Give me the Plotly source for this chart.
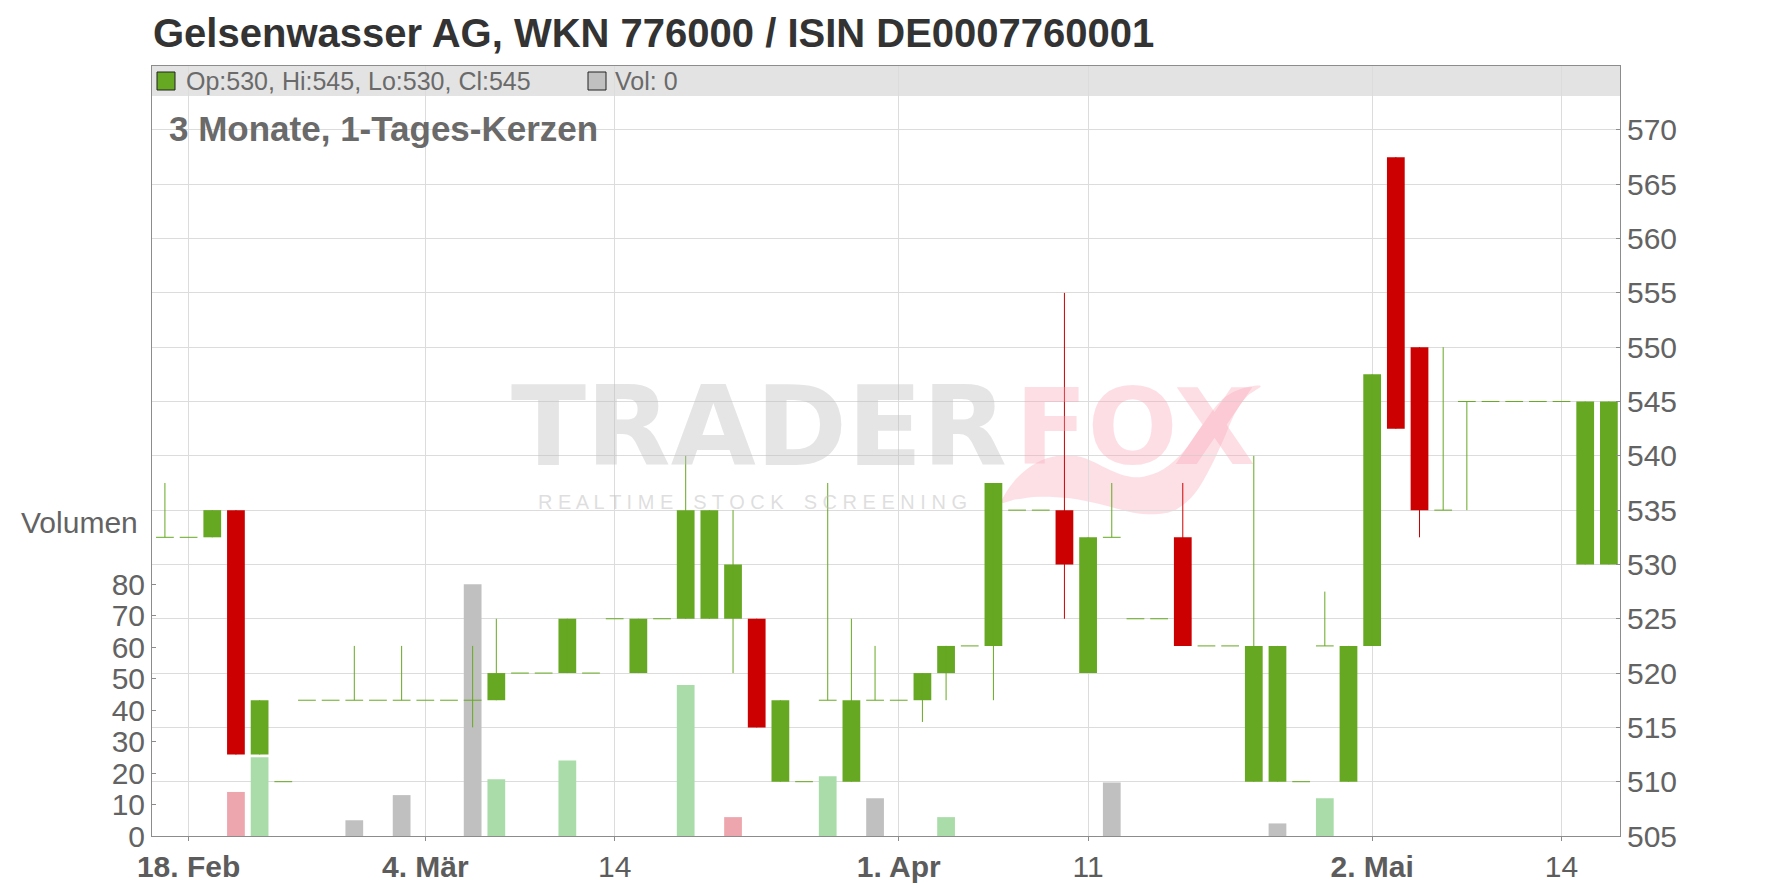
import plotly.graph_objects as go

# ---------------- data ----------------
dates = [
    "2019-02-15", "2019-02-18", "2019-02-19", "2019-02-20", "2019-02-21", "2019-02-22",
    "2019-02-25", "2019-02-26", "2019-02-27", "2019-02-28", "2019-03-01",
    "2019-03-04", "2019-03-05", "2019-03-06", "2019-03-07", "2019-03-08",
    "2019-03-11", "2019-03-12", "2019-03-13", "2019-03-14", "2019-03-15",
    "2019-03-18", "2019-03-19", "2019-03-20", "2019-03-21", "2019-03-22",
    "2019-03-25", "2019-03-26", "2019-03-27", "2019-03-28", "2019-03-29",
    "2019-04-01", "2019-04-02", "2019-04-03", "2019-04-04", "2019-04-05",
    "2019-04-08", "2019-04-09", "2019-04-10", "2019-04-11", "2019-04-12",
    "2019-04-15", "2019-04-16", "2019-04-17", "2019-04-18",
    "2019-04-23", "2019-04-24", "2019-04-25", "2019-04-26",
    "2019-04-29", "2019-04-30",
    "2019-05-02", "2019-05-03", "2019-05-06", "2019-05-07", "2019-05-08",
    "2019-05-09", "2019-05-10", "2019-05-13", "2019-05-14", "2019-05-15", "2019-05-16",
]
opens = [
    532.5, 532.5, 532.5, 535, 512.5, 510,
    517.5, 517.5, 517.5, 517.5, 517.5,
    517.5, 517.5, 517.5, 517.5, 520,
    520, 520, 520, 525, 520,
    525, 525, 525, 525, 525,
    510, 510, 517.5, 510, 517.5,
    517.5, 517.5, 520, 522.5, 522.5,
    535, 535, 535, 520, 532.5,
    525, 525, 532.5, 522.5,
    522.5, 510, 510, 510,
    522.5, 510,
    522.5, 567.5, 550, 535, 545,
    545, 545, 545, 545, 530, 530,
]
highs = [
    537.5, 532.5, 535, 535, 517.5, 510,
    517.5, 517.5, 522.5, 517.5, 522.5,
    517.5, 517.5, 522.5, 525, 520,
    520, 525, 520, 525, 525,
    525, 540, 535, 535, 525,
    517.5, 510, 537.5, 525, 522.5,
    517.5, 520, 522.5, 522.5, 537.5,
    535, 535, 555, 532.5, 537.5,
    525, 525, 537.5, 522.5,
    522.5, 540, 522.5, 510,
    527.5, 522.5,
    547.5, 567.5, 550, 550, 545,
    545, 545, 545, 545, 545, 545,
]
lows = [
    532.5, 532.5, 532.5, 512.5, 512.5, 510,
    517.5, 517.5, 517.5, 517.5, 517.5,
    517.5, 517.5, 515, 517.5, 520,
    520, 520, 520, 525, 520,
    525, 525, 525, 520, 515,
    510, 510, 517.5, 510, 517.5,
    517.5, 515.5, 517.5, 522.5, 517.5,
    535, 535, 525, 520, 532.5,
    525, 525, 522.5, 522.5,
    522.5, 510, 510, 510,
    522.5, 510,
    522.5, 542.5, 532.5, 535, 535,
    545, 545, 545, 545, 530, 530,
]
closes = [
    532.5, 532.5, 535, 512.5, 517.5, 510,
    517.5, 517.5, 517.5, 517.5, 517.5,
    517.5, 517.5, 517.5, 520, 520,
    520, 525, 520, 525, 525,
    525, 535, 535, 530, 515,
    517.5, 510, 517.5, 517.5, 517.5,
    517.5, 520, 522.5, 522.5, 537.5,
    535, 535, 530, 532.5, 532.5,
    525, 525, 522.5, 522.5,
    522.5, 522.5, 522.5, 510,
    522.5, 522.5,
    547.5, 542.5, 535, 535, 545,
    545, 545, 545, 545, 545, 545,
]
volumes = [
    0, 0, 0, 14, 25, 0,
    0, 0, 5, 0, 13,
    0, 0, 80, 18, 0,
    0, 24, 0, 0, 0,
    0, 48, 0, 6, 0,
    0, 0, 19, 0, 12,
    0, 0, 6, 0, 0,
    0, 0, 0, 0, 17,
    0, 0, 0, 0,
    0, 0, 4, 0,
    12, 0,
    0, 0, 0, 0, 0,
    0, 0, 0, 0, 0, 0,
]
tick_dates = ["2019-02-18", "2019-03-04", "2019-03-14", "2019-04-01",
              "2019-04-11", "2019-05-02", "2019-05-14"]
tick_labels = ["<b>18. Feb</b>", "<b>4. Mär</b>", "14", "<b>1. Apr</b>",
               "11", "<b>2. Mai</b>", "14"]
price_ticks = [505, 510, 515, 520, 525, 530, 535, 540, 545, 550, 555, 560, 565, 570]
volume_ticks = [0, 10, 20, 30, 40, 50, 60, 70, 80]

title_text = "Gelsenwasser AG, WKN 776000 / ISIN DE0007760001"
subtitle_text = "3 Monate, 1-Tages-Kerzen"

# ---------------- styling ----------------
GREEN = "#66a822"
RED = "#cc0000"
VOL_UP = "#aadcaa"
VOL_DOWN = "#eea6ae"
VOL_FLAT = "#c0c0c0"
GRID = "#dcdcdc"
AXIS = "#8c8c8c"
TXT = "#636363"
FONT = "Liberation Sans, Arial, sans-serif"

W, H = 1776, 888
L, R, T, B = 152, 156, 66, 52
PW, PH = W - L - R, H - T - B
BODY_W = 0.75


def px_x(px):
    return (px - L) / PW


def px_y(py):
    return (H - B - py) / PH


n = len(dates)
xs = list(range(n))
idx = {d: i for i, d in enumerate(dates)}
tickvals = [idx[d] for d in tick_dates]

fig = go.Figure()

# volume bars (left axis)
vol_x, vol_y, vol_c = [], [], []
for i in xs:
    if volumes[i] <= 0:
        continue
    prev = closes[i - 1] if i > 0 else closes[i]
    if closes[i] > prev:
        c = VOL_UP
    elif closes[i] < prev:
        c = VOL_DOWN
    else:
        c = VOL_FLAT
    vol_x.append(i)
    vol_y.append(volumes[i])
    vol_c.append(c)
fig.add_trace(go.Bar(x=vol_x, y=vol_y, width=BODY_W, marker=dict(color=vol_c, line=dict(width=0)),
                     yaxis="y", hoverinfo="skip"))

# candles (right axis)
for is_up, col in ((True, GREEN), (False, RED)):
    sel = [i for i in xs if (closes[i] >= opens[i]) == is_up]
    wx, wy = [], []
    for i in sel:
        if highs[i] > lows[i]:
            wx += [i, i, None]
            wy += [lows[i], highs[i], None]
    if wx:
        fig.add_trace(go.Scatter(x=wx, y=wy, mode="lines", line=dict(color=col, width=1),
                                 yaxis="y2", hoverinfo="skip"))
    bx = [i for i in sel if closes[i] != opens[i]]
    fig.add_trace(go.Bar(x=bx,
                         y=[abs(closes[i] - opens[i]) for i in bx],
                         base=[min(closes[i], opens[i]) for i in bx],
                         width=BODY_W, marker=dict(color=col, line=dict(width=0)),
                         yaxis="y2", hoverinfo="skip"))
    dx, dy = [], []
    for i in sel:
        if closes[i] == opens[i]:
            dx += [i - BODY_W / 2, i + BODY_W / 2, None]
            dy += [closes[i], closes[i], None]
    if dx:
        fig.add_trace(go.Scatter(x=dx, y=dy, mode="lines", line=dict(color=col, width=1),
                                 yaxis="y2", hoverinfo="skip"))

fig.update_layout(
    width=W, height=H,
    margin=dict(l=L, r=R, t=T, b=B, pad=0),
    paper_bgcolor="white", plot_bgcolor="rgba(0,0,0,0)",
    showlegend=False, barmode="overlay",
    font=dict(family=FONT, color=TXT),
    title=dict(text="<b>" + title_text + "</b>", xref="container", yref="container",
               x=153 / W, xanchor="left", y=1 - 33 / H, yanchor="middle",
               font=dict(size=40, color="#333333", family=FONT)),
    xaxis=dict(range=[-0.546, 61.47], tickmode="array", tickvals=tickvals, ticktext=tick_labels,
               showgrid=True, gridcolor=GRID, gridwidth=1, zeroline=False,
               showline=True, linecolor=AXIS, linewidth=1, mirror=True,
               ticks="outside", ticklen=4, tickcolor=AXIS,
               tickfont=dict(size=30, color="#5c5c5c"), automargin=False),
    yaxis=dict(range=[0, 244.75], tickmode="array", tickvals=volume_ticks, side="left",
               showgrid=False, zeroline=False, showline=True, linecolor=AXIS, linewidth=1,
               ticks="inside", ticklen=4, tickcolor=AXIS,
               tickfont=dict(size=30, color=TXT), automargin=False),
    yaxis2=dict(range=[505, 575.89], tickmode="array", tickvals=price_ticks, side="right",
                overlaying="y", showgrid=True, gridcolor=GRID, gridwidth=1, zeroline=False,
                showline=True, linecolor=AXIS, linewidth=1,
                ticks="inside", ticklen=4, tickcolor=AXIS,
                tickfont=dict(size=30, color=TXT), automargin=False),
)

# legend band
fig.add_shape(type="rect", xref="x domain", yref="y domain", x0=0, x1=1,
              y0=px_y(96), y1=1, fillcolor="#e3e3e3", line=dict(width=0), layer="below")
fig.add_shape(type="rect", xref="paper", yref="paper", x0=px_x(157), x1=px_x(175),
              y0=px_y(90), y1=px_y(72), fillcolor=GREEN, line=dict(color="#222222", width=1))
fig.add_shape(type="rect", xref="paper", yref="paper", x0=px_x(588), x1=px_x(606),
              y0=px_y(90), y1=px_y(72), fillcolor=VOL_FLAT, line=dict(color="#222222", width=1))


# watermark fox-tail swoosh (decorative, drawn beneath grid and marks)
def smooth_closed_path(pts):
    m = len(pts)
    P = [(px_x(x), px_y(y)) for x, y in pts]
    s = "M %.5f,%.5f" % P[0]
    for k in range(m):
        p0, p1, p2, p3 = P[(k - 1) % m], P[k], P[(k + 1) % m], P[(k + 2) % m]
        c1 = (p1[0] + (p2[0] - p0[0]) / 6, p1[1] + (p2[1] - p0[1]) / 6)
        c2 = (p2[0] - (p3[0] - p1[0]) / 6, p2[1] - (p3[1] - p1[1]) / 6)
        s += " C %.5f,%.5f %.5f,%.5f %.5f,%.5f" % (c1[0], c1[1], c2[0], c2[1], p2[0], p2[1])
    return s + " Z"


swoosh_zoom = [(35, 395), (80, 325), (140, 278), (200, 258), (260, 258), (310, 275),
               (360, 300), (410, 318), (460, 320), (520, 298), (580, 245), (630, 175),
               (690, 95), (750, 58), (812, 48), (770, 80), (735, 130), (700, 210),
               (660, 295), (615, 370), (560, 418), (505, 432), (430, 428), (340, 405),
               (240, 385), (150, 380), (80, 388)]
swoosh_px = [(990 + zx / 3, 370 + zy / 3) for zx, zy in swoosh_zoom]
fig.add_shape(type="path", xref="paper", yref="paper", path=smooth_closed_path(swoosh_px),
              fillcolor="rgba(250,160,178,0.33)", line=dict(width=0), layer="below")

last = n - 1
fmt = lambda v: ("%g" % v)
annos = [
    dict(text="Op:%s, Hi:%s, Lo:%s, Cl:%s" % (fmt(opens[last]), fmt(highs[last]), fmt(lows[last]), fmt(closes[last])),
         x=px_x(184), y=px_y(81), xanchor="left", yanchor="middle",
         font=dict(size=25, color="#6a6a6a")),
    dict(text="Vol: %d" % volumes[last], x=px_x(613), y=px_y(81), xanchor="left", yanchor="middle",
         font=dict(size=25, color="#6a6a6a")),
    dict(text="<b>" + subtitle_text + "</b>", x=px_x(167), y=px_y(128), xanchor="left", yanchor="middle",
         font=dict(size=35, color="#6a6a6a")),
    dict(text="Volumen", x=px_x(140), y=px_y(522), xanchor="right", yanchor="middle",
         font=dict(size=30, color=TXT)),
    # watermark
    dict(text="<b>TRADER</b>", x=px_x(1009), y=px_y(427), xanchor="right", yanchor="middle",
         height=88, valign="middle",
         font=dict(size=110, color="rgba(190,190,190,0.4)", family="DejaVu Sans")),
    dict(text="<b>FOX</b>", x=px_x(1013), y=px_y(427), xanchor="left", yanchor="middle",
         height=88, valign="middle",
         font=dict(size=106, color="rgba(250,160,178,0.35)", family="DejaVu Sans")),
    dict(text="R E A L T I M E\u2003S T O C K\u2003S C R E E N I N G", x=px_x(536), y=px_y(502),
         xanchor="left", yanchor="middle",
         font=dict(size=20, color="rgba(190,190,190,0.5)")),
]
for a in annos:
    a.update(xref="paper", yref="paper", showarrow=False)
    fig.add_annotation(**a)

fig.write_html("out.html", include_plotlyjs=True, config={"displayModeBar": False},
               post_script="document.body.style.margin='0';document.body.style.overflow='hidden';")
